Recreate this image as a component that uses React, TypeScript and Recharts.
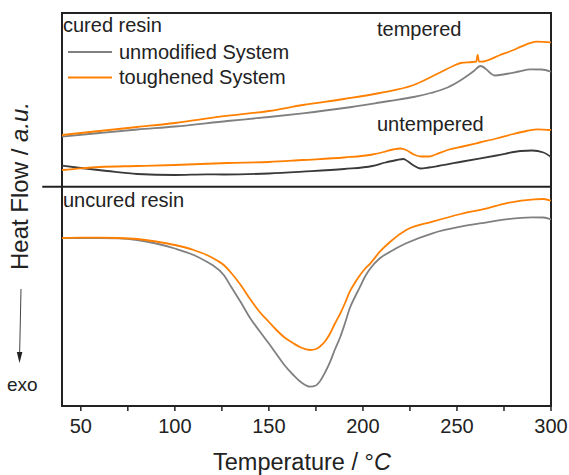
import React from "react";
import { LineChart, Line, XAxis, YAxis, ReferenceArea, ReferenceLine } from "recharts";

// temperatures (°C) and heat flow (a.u., arbitrary offsets per curve)
const uncuredUnmodT = [40, 50, 60, 70, 80, 90, 100, 110, 117, 120, 126, 130, 135, 140, 145, 150, 154, 158, 163, 167, 172, 175, 177, 180, 182.6, 185, 188, 190.5, 193, 196, 198.5, 201, 204, 209, 214.5, 223, 237, 252, 266, 276, 290, 296, 300];
const uncuredUnmodV = [168, 168, 168, 167.7, 166, 162.5, 157.5, 151, 144.3, 141, 131, 119, 104, 88, 75, 62.5, 52, 41.5, 31, 24, 19.3, 20.5, 24.3, 34, 44.3, 56, 69.3, 83, 97.7, 110, 119.3, 129, 137.7, 147.7, 154.3, 162.7, 172.7, 179.3, 183.7, 186.7, 188.7, 188.5, 186.5];

const uncuredToughT = [40, 50, 60, 70, 80, 90, 100, 110, 117, 122, 126, 130, 135, 140, 145, 150, 154, 158, 163, 167, 172, 175, 177, 180, 182.6, 185, 188, 190.5, 193, 196, 198.5, 201, 204, 209, 214.5, 223, 237, 252, 266, 276, 291, 296, 300];
const uncuredToughV = [168, 168.3, 168.3, 168, 167, 164.5, 161, 156, 151, 146, 141, 133, 121, 107, 94.3, 84, 76, 69, 62.7, 58.5, 56, 57, 59.3, 65, 72.7, 82, 92.7, 103, 114.3, 124, 131, 137, 142.7, 154.3, 164.3, 176, 184.3, 192, 197.7, 202.7, 206.7, 207, 205.3];

const temperedUnmodT = [40, 60, 80, 100, 128, 150, 168, 190, 209, 214, 227, 236, 245, 253, 259, 262.5, 266, 268, 270, 276, 283, 289, 295, 300];
const temperedUnmodV = [269.3, 273, 276.5, 279.5, 285, 289, 292.7, 298, 303.5, 305, 309, 313, 318.5, 327, 335, 340, 336, 332.5, 330.5, 332, 334.5, 336.7, 336.5, 334.3];

const temperedToughT = [40, 60, 80, 100, 124, 150, 168, 190, 209, 227, 241, 248, 252, 258, 260.3, 261, 261.7, 263, 273, 280, 284, 292.5, 300];
const temperedToughV = [271, 275, 279, 283, 289.3, 295, 301, 307, 313, 321, 333.5, 340, 343, 344, 344.5, 351, 344.5, 344.3, 351, 356, 359.3, 364.3, 363.7];

const untemperedUnmodT = [40, 50, 64, 80, 100, 117, 126, 150, 168, 190, 205, 212, 218, 221.5, 224, 227, 230.5, 235, 240, 253, 271, 284, 290, 296, 300];
const untemperedUnmodV = [240.3, 238, 235, 232, 231, 231.7, 231.5, 232.5, 234.3, 237, 240, 243.5, 246, 247, 244.5, 240.5, 237.5, 238.5, 240, 244.5, 250.5, 255, 255.5, 253.5, 249];

const untemperedToughT = [40, 50, 60, 80, 100, 128, 150, 168, 190, 205, 211, 216, 220, 223, 227, 231, 235, 238, 245, 253, 262, 271, 280, 287, 293, 300];
const untemperedToughV = [236, 237.7, 239, 240, 241, 243, 244, 246, 248.5, 251.5, 254, 256.5, 257.5, 256, 251.5, 249.5, 249.5, 251, 256, 259.5, 263.5, 267.5, 272, 275, 276.7, 276];

const xTicks = [50, 75, 100, 125, 150, 175, 200, 225, 250, 275, 300];
const dividerLevel = 219.3;

const GREY = "#808080";
const DARK = "#3a3a3a";
const ORANGE = "#ff8000";
const FONT = "'Liberation Sans', Arial, sans-serif";

const zip = (t: number[], v: number[]) => t.map((x, i) => ({ t: x, v: v[i] }));

const series = [
  { key: "uu", data: zip(uncuredUnmodT, uncuredUnmodV), color: GREY },
  { key: "ut", data: zip(uncuredToughT, uncuredToughV), color: ORANGE },
  { key: "tu", data: zip(temperedUnmodT, temperedUnmodV), color: GREY },
  { key: "tt", data: zip(temperedToughT, temperedToughV), color: ORANGE },
  { key: "nu", data: zip(untemperedUnmodT, untemperedUnmodV), color: DARK },
  { key: "nt", data: zip(untemperedToughT, untemperedToughV), color: ORANGE },
];

function Tick(props: any) {
  const { x, y, payload } = props;
  if (payload.value % 50 !== 0) return null;
  return (
    <text x={x} y={y} dy={14} textAnchor="middle" fontSize={20} fill="#222" fontFamily={FONT}>
      {payload.value}
    </text>
  );
}

export default function App() {
  return (
    <div style={{ position: "absolute", left: 0, top: 0, width: 569, height: 475, background: "#fff", fontFamily: FONT }}>
      <LineChart width={569} height={475} margin={{ top: 13, right: 18, bottom: 39, left: 62 }}>
        <XAxis
          type="number"
          dataKey="t"
          domain={[40, 300]}
          ticks={xTicks}
          allowDataOverflow
          axisLine={false}
          tickSize={5}
          tickMargin={8}
          tickLine={{ stroke: "#222", strokeWidth: 1.5 }}
          tick={<Tick />}
          height={30}
        />
        <YAxis type="number" domain={[0, 393]} hide allowDataOverflow />
        <ReferenceArea x1={40} x2={300} y1={0} y2={393} fill="none" stroke="#222" strokeWidth={2} ifOverflow="visible" />
        <ReferenceLine
          segment={[{ x: 29.5, y: dividerLevel }, { x: 300, y: dividerLevel }]}
          stroke="#222"
          strokeWidth={2}
          ifOverflow="visible"
        />
        {series.map((s) => (
          <Line
            key={s.key}
            data={s.data}
            dataKey="v"
            type="monotone"
            stroke={s.color}
            strokeWidth={1.8}
            dot={false}
            activeDot={false}
            isAnimationActive={false}
          />
        ))}
      </LineChart>
      <svg width={569} height={475} style={{ position: "absolute", left: 0, top: 0, pointerEvents: "none" }} fontFamily={FONT} fill="#222">
        <text x={63} y={32} fontSize={20}>cured resin</text>
        <line x1={68} x2={112} y1={52} y2={52} stroke={GREY} strokeWidth={2} />
        <line x1={68} x2={112} y1={77.5} y2={77.5} stroke={ORANGE} strokeWidth={2} />
        <text x={119} y={59} fontSize={20}>unmodified System</text>
        <text x={119} y={84} fontSize={20}>toughened System</text>
        <text x={377} y={36} fontSize={20}>tempered</text>
        <text x={377} y={131} fontSize={20}>untempered</text>
        <text x={63} y={207} fontSize={20}>uncured resin</text>
        <text x={213} y={470} fontSize={23.5}>
          Temperature / °<tspan fontStyle="italic">C</tspan>
        </text>
        <text x={28} y={186} fontSize={24} textAnchor="middle" transform="rotate(-90, 28, 186)">
          Heat Flow / <tspan fontStyle="italic">a.u.</tspan>
        </text>
        <line x1={21} y1={289} x2={19.6} y2={355} stroke="#444" strokeWidth={1} />
        <polygon points="16.8,352 22.4,352 19.5,363" fill="#222" />
        <text x={7} y={391} fontSize={19}>exo</text>
      </svg>
    </div>
  );
}
